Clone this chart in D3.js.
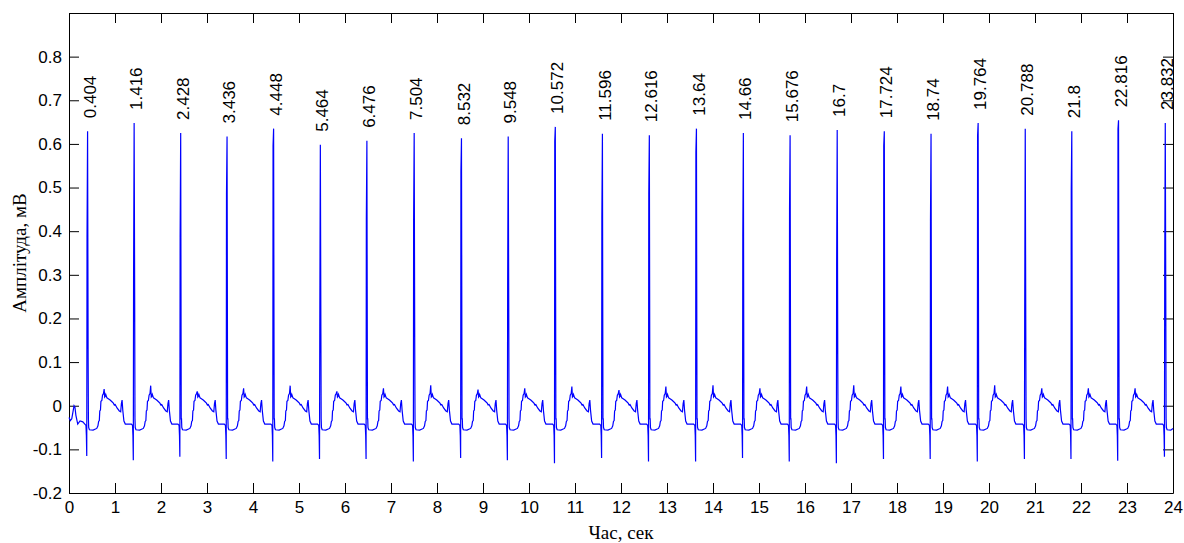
<!DOCTYPE html>
<html>
<head>
<meta charset="utf-8">
<script src="https://cdn.jsdelivr.net/npm/d3@7"></script>
<style>
  body { margin: 0; background: #fff; }
  .tick text { font-family: "Liberation Sans", Arial, sans-serif; font-size: 17px; fill: #000; }
  .peak_label { font-family: "Liberation Sans", Arial, sans-serif; font-size: 17px; fill: #000; }
  .axis_title { font-family: "Liberation Serif", "Times New Roman", serif; font-size: 19px; fill: #000; }
</style>
</head>
<body>
<svg id="chart" width="1184" height="543"></svg>
<script>
// R-peak times (sec), as printed above each peak
var r_times = [0.404, 1.416, 2.428, 3.436, 4.448, 5.464, 6.476, 7.504, 8.532, 9.548, 10.572, 11.596,
               12.616, 13.64, 14.66, 15.676, 16.7, 17.724, 18.74, 19.764, 20.788, 21.8, 22.816, 23.832];
// R-peak amplitude (mV)
var r_peak = [0.629, 0.648, 0.625, 0.617, 0.635, 0.598, 0.607, 0.625, 0.613, 0.617, 0.639, 0.623,
              0.620, 0.635, 0.625, 0.620, 0.632, 0.629, 0.623, 0.648, 0.635, 0.629, 0.654, 0.648];
// sample on the rising edge of R
var r_rise = [0.386, 0.298, 0.386, 0.484, 0.596, 0.181, 0.426, 0.426, 0.537, 0.275, 0.606, 0.430,
              0.484, 0.581, 0.387, 0.449, 0.323, 0.596, 0.423, 0.619, 0.210, 0.494, 0.634, 0.313];
// sample on the falling edge of R
var r_fall = [0.109, 0.240, -0.03, -0.03, -0.03, 0.166, -0.03, 0.140, -0.03, 0.220, -0.03, -0.03,
              -0.03, -0.03, -0.03, -0.03, 0.118, -0.03, -0.03, -0.03, 0.160, -0.03, -0.03, 0.210];
// Q dip before each R
var q_min = [-0.115, -0.125, -0.117, -0.122, -0.128, -0.122, -0.122, -0.128, -0.120, -0.125, -0.132, -0.120,
             -0.128, -0.128, -0.120, -0.128, -0.132, -0.122, -0.122, -0.128, -0.122, -0.122, -0.126, -0.117];
// T wave top after each R
var t_peak = [0.038, 0.046, 0.033, 0.040, 0.046, 0.033, 0.040, 0.047, 0.037, 0.040, 0.044, 0.036,
              0.044, 0.047, 0.040, 0.044, 0.047, 0.044, 0.044, 0.047, 0.040, 0.040, 0.040, 0.040];

// shape around one beat, offsets (sec) from R, values (mV); null = use t_peak
var beat_off = [-0.06, -0.035, -0.026, 0.024, 0.04, 0.12, 0.20, 0.225, 0.24, 0.255, 0.265, 0.28, 0.29, 0.31, 0.325,
                0.345, 0.36, 0.372, 0.385, 0.395, 0.42, 0.45, 0.49, 0.53, 0.56, 0.58, 0.60, 0.64, 0.69, 0.72, 0.735,
                0.75, 0.765, 0.79, 0.82];
var beat_val = [-0.042, -0.045, -0.068, -0.05, -0.055, -0.056, -0.052, -0.046, -0.036, -0.034, -0.012, -0.01, 0.01, 0.012, 0.024,
                0.028, null, 0.02, 0.022, 0.026, 0.018, 0.016, 0.013, 0.009, 0.006, 0.002, 0.003, -0.005, -0.012, -0.014, 0.005,
                0.013, -0.01, -0.035, -0.042];

// start of record (tail of a previous beat) and end point
var start_t = [0, 0.03, 0.06, 0.09, 0.11, 0.13, 0.15, 0.19, 0.24, 0.3];
var start_v = [-0.027, -0.034, -0.03, -0.012, 0.0, -0.004, -0.022, -0.042, -0.035, -0.037];
var end_t = [24.0];
var end_v = [-0.052];

var x_ticks = d3.range(0, 25);
var y_ticks = [-0.2, -0.1, 0, 0.1, 0.2, 0.3, 0.4, 0.5, 0.6, 0.7, 0.8];

var margin = {top: 13, right: 11, bottom: 50, left: 69};
var w_svg = 1184, h_svg = 543;
var w = w_svg - margin.left - margin.right;
var h = h_svg - margin.top - margin.bottom;

var svg = d3.select("#chart");
var g = svg.append("g")
           .attr("transform", "translate(" + margin.left + "," + margin.top + ")");

var x = d3.scaleLinear().domain([0, 24]).range([0, w]);
var y = d3.scaleLinear().domain([-0.2, 0.9]).range([h, 0]);

// build the trace
var trace = [];
start_t.forEach(function(t, i) { trace.push([t, start_v[i]]); });
r_times.forEach(function(t0, i) {
  beat_off.forEach(function(o, k) {
    if (o < 0) trace.push([t0 + o, beat_val[k]]);
  });
  trace.push([t0 - 0.018, q_min[i]]);
  trace.push([t0 - 0.012, r_rise[i]]);
  trace.push([t0, r_peak[i]]);
  trace.push([t0 + 0.012, r_fall[i]]);
  trace.push([t0 + 0.018, -0.03]);
  beat_off.forEach(function(o, k) {
    if (o <= 0.018) return;
    var v = beat_val[k] === null ? t_peak[i] : beat_val[k];
    trace.push([t0 + o, v]);
  });
});
trace = trace.filter(function(d) { return d[0] <= 24; });
end_t.forEach(function(t, i) { trace.push([t, end_v[i]]); });

var fmt = function(d) { return d === 0 ? "0" : String(+d.toFixed(1)); };

// axes (ticks pointing inward, box on all four sides)
g.append("g")
 .attr("transform", "translate(0," + h + ")")
 .call(d3.axisBottom(x).tickValues(x_ticks).tickFormat(fmt).tickSizeInner(-10).tickSizeOuter(0).tickPadding(8));
g.append("g")
 .call(d3.axisTop(x).tickValues(x_ticks).tickFormat("").tickSizeInner(-10).tickSizeOuter(0));
g.append("g")
 .call(d3.axisLeft(y).tickValues(y_ticks).tickFormat(fmt).tickSizeInner(-10).tickSizeOuter(0).tickPadding(7));
g.append("g")
 .attr("transform", "translate(" + w + ",0)")
 .call(d3.axisRight(y).tickValues(y_ticks).tickFormat("").tickSizeInner(-10).tickSizeOuter(0));

g.selectAll(".domain").attr("stroke", "#000");
g.selectAll(".tick line").attr("stroke", "#000");

// signal
var line = d3.line()
             .x(function(d) { return x(d[0]); })
             .y(function(d) { return y(d[1]); });

g.append("path")
 .datum(trace)
 .attr("d", line)
 .attr("fill", "none")
 .attr("stroke", "#0000ff")
 .attr("stroke-width", 1.2);

// peak time labels
g.selectAll(".peak_label")
 .data(r_times)
 .enter()
 .append("text")
 .attr("class", "peak_label")
 .attr("transform", function(d, i) {
   return "translate(" + (x(d) + 2) + "," + (y(r_peak[i]) - 13) + ") rotate(-90)";
 })
 .attr("dy", "0.36em")
 .text(function(d) { return String(d); });

// axis titles
svg.append("text")
   .attr("class", "axis_title")
   .attr("x", margin.left + w / 2)
   .attr("y", 539)
   .attr("text-anchor", "middle")
   .text("Час, сек");

svg.append("text")
   .attr("class", "axis_title")
   .attr("transform", "translate(26," + (margin.top + h / 2) + ") rotate(-90)")
   .attr("text-anchor", "middle")
   .text("Амплітуда, мВ");
</script>
</body>
</html>
